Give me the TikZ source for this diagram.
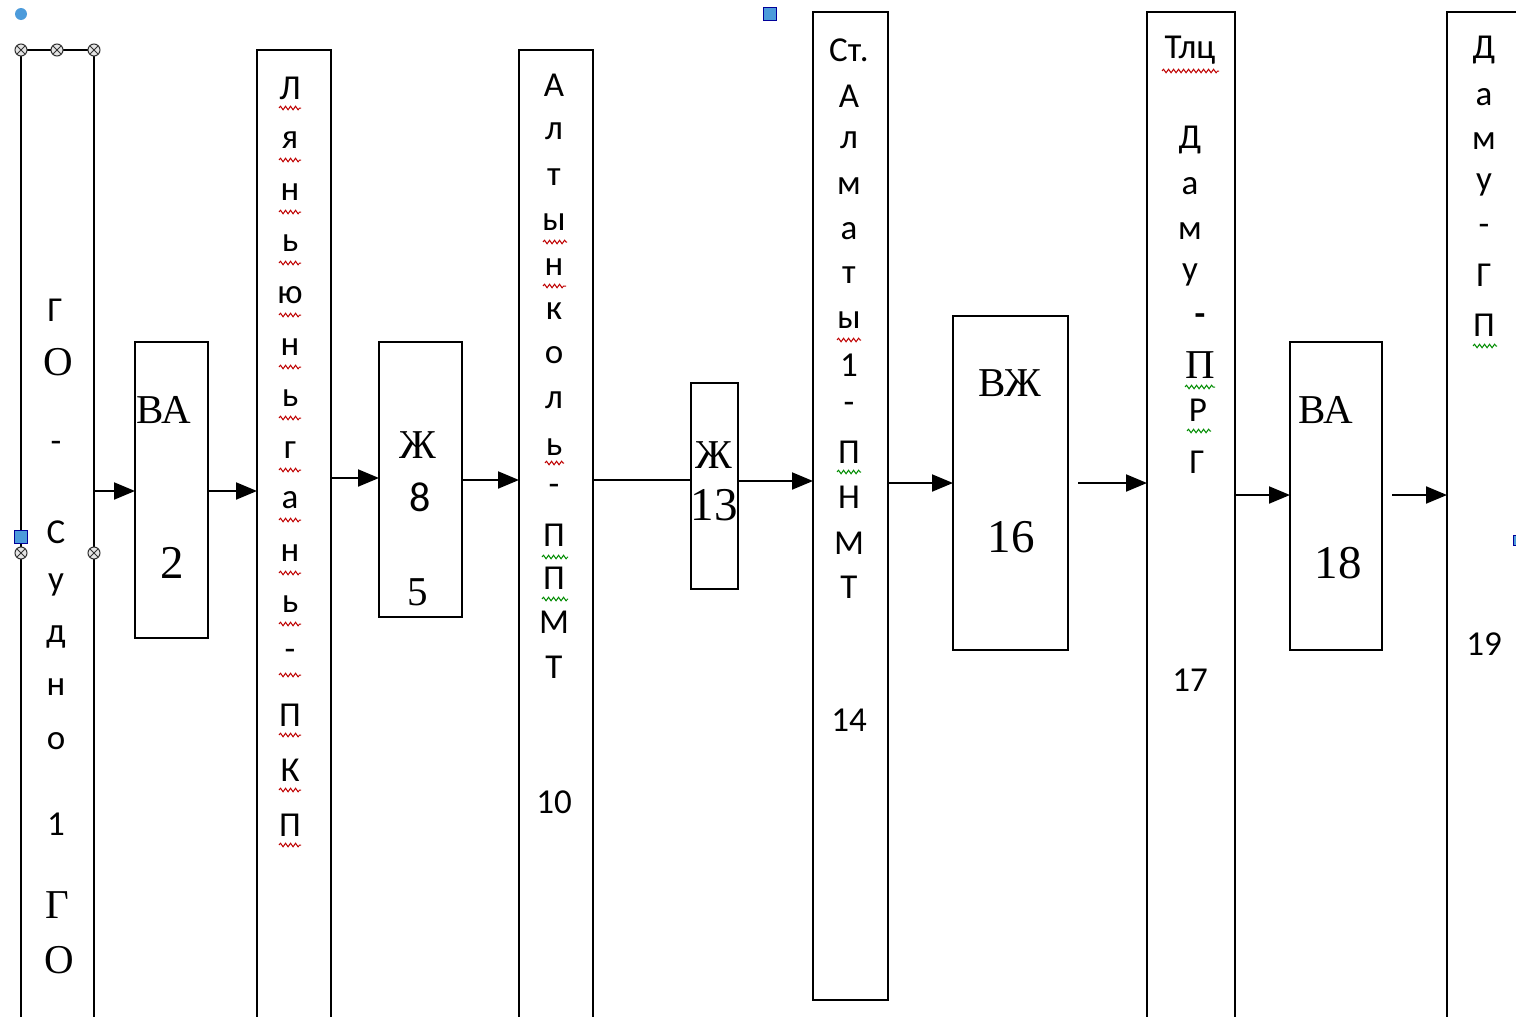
\documentclass[tikz,border=0pt]{standalone}
\usepackage{fontspec}
\setmainfont{Liberation Serif}
\setsansfont{Carlito}
\usetikzlibrary{arrows.meta,decorations.pathmorphing}
\begin{document}
\begin{tikzpicture}[x=1pt,y=-1pt,
  box/.style={draw,line width=2pt,anchor=north west,inner sep=0pt,outer sep=0pt},
  arr/.style={line width=2pt,-{Triangle[length=21pt,width=17pt]}},
  ln/.style={line width=2pt},
  sl/.style={font=\sffamily\fontsize{35}{37}\selectfont,inner sep=0pt},
  sr/.style={font=\rmfamily\fontsize{41}{43}\selectfont,inner sep=0pt},
  srb/.style={font=\rmfamily\fontsize{47}{49}\selectfont,inner sep=0pt},
  sqr/.style={draw=red!75!black,line width=1pt,decorate,decoration={snake,amplitude=1.8pt,segment length=5pt}},
  sqg/.style={draw=green!55!black,line width=1pt,decorate,decoration={snake,amplitude=1.8pt,segment length=5pt}},
  hnd/.style={circle,draw=gray!40!black,fill=gray!20,line width=1pt,minimum size=12pt,inner sep=0pt,path picture={\draw[line width=0.8pt] (path picture bounding box.north west)--(path picture bounding box.south east) (path picture bounding box.north east)--(path picture bounding box.south west);}},
  bsq/.style={fill=blue!45!cyan!80!black!70,draw=blue!60!black,line width=0.4pt,minimum size=13pt,inner sep=0pt}
]
\useasboundingbox[fill=white] (0,0) rectangle (1516,1017);
\clip (0,0) rectangle (1516,1017);

% boxes
\node[box,minimum width=73pt,minimum height=990pt] (n1) at (21,50) {};
\node[box,minimum width=73pt,minimum height=296pt] (n2) at (135,342) {};
\node[box,minimum width=74pt,minimum height=990pt] (n3) at (257,50) {};
\node[box,minimum width=83pt,minimum height=275pt] (n4) at (379,342) {};
\node[box,minimum width=74pt,minimum height=990pt] (n5) at (519,50) {};
\node[box,minimum width=47pt,minimum height=206pt] (n6) at (691,383) {};
\node[box,minimum width=75pt,minimum height=988pt] (n7) at (813,12) {};
\node[box,minimum width=115pt,minimum height=334pt] (n8) at (953,316) {};
\node[box,minimum width=88pt,minimum height=1020pt] (n9) at (1147,12) {};
\node[box,minimum width=92pt,minimum height=308pt] (n10) at (1290,342) {};
\node[box,minimum width=100pt,minimum height=1020pt] (n11) at (1447,12) {};

% connectors
\draw[arr] (n1.east |- 0,491) -- (n2.west |- 0,491);
\draw[arr] (n2.east |- 0,491) -- (n3.west |- 0,491);
\draw[arr] (n3.east |- 0,478) -- (n4.west |- 0,478);
\draw[arr] (n4.east |- 0,480) -- (n5.west |- 0,480);
\draw[ln] (n5.east |- 0,480) -- (n6.west |- 0,480);
\draw[arr] (n6.east |- 0,481) -- (n7.west |- 0,481);
\draw[arr] (n7.east |- 0,483) -- (n8.west |- 0,483);
\draw[arr] ([xshift=10pt]n8.east |- 0,483) -- (n9.west |- 0,483);
\draw[arr] (n9.east |- 0,495) -- (n10.west |- 0,495);
\draw[arr] ([xshift=10pt]n10.east |- 0,495) -- (n11.west |- 0,495);

% box 1 text
\node[sl] (t1a) at (55,310) {Г};
\node[sr] (t1b) at (58,362) {О};
\foreach \t/\y [count=\i] in {-/447,С/532,у/585,д/637,н/687,о/741,1/824}
  \node[sl] (t1c\i) at (56,\y) {\t};
\node[sr] (t1d) at (57,905) {Г};
\node[sr] (t1e) at (59,960) {О};

% box 2
\node[sr,anchor=west] (t2a) at (136,410) {ВА};
\node[srb] (t2b) at (172,563) {2};

% box 3
\foreach \t/\y [count=\i] in {Л/88,я/140,н/192,ь/243,ю/295,н/347,ь/398,г/450,а/500,н/553,ь/604,-/655,П/715,К/770,П/825}
  {\node[sl] (t3l\i) at (290,\y) {\t};
   \draw[sqr] (279,\y+20) -- (301,\y+20);}

% box 4
\node[sr] (t4a) at (418,445) {Ж};
\node[sl,font=\sffamily\fontsize{42}{44}\selectfont] (t4b) at (420,497) {8};
\node[sr] (t4c) at (418,592) {5};

% box 5
\foreach \t/\y [count=\i] in {А/85,л/131,т/177,ы/222,н/267,к/311,о/355,л/400,ь/447,-/490,П/535,П/578,М/622,Т/667}
  \node[sl] (t5l\i) at (554,\y) {\t};
\draw[sqr] (543,242) -- (567,242);
\draw[sqr] (543,286) -- (566,286);
\draw[sqr] (545,463) -- (564,463);
\draw[sqg] (542,557) -- (568,557);
\draw[sqg] (542,599) -- (568,599);
\node[sl] (t5n) at (554,802) {10};

% box 6
\node[sr] (t6a) at (714,455) {Ж};
\node[srb] (t6b) at (714,505) {13};

% box 7
\foreach \t/\y [count=\i] in {Ст./50,А/96,л/140,м/186,а/231,т/275,ы/320,1/365,-/408,П/452,Н/497,М/543,Т/587}
  \node[sl] (t7l\i) at (849,\y) {\t};
\draw[sqr] (837,340) -- (861,340);
\draw[sqg] (837,472) -- (861,472);
\node[sl] (t7n) at (849,720) {14};

% box 8
\node[sr] (t8a) at (1010,383) {ВЖ};
\node[srb] (t8b) at (1011,537) {16};

% box 9
\node[sl] (t9a) at (1190,50) {Тлц};
\draw[sqr] (1162,71) -- (1219,71);
\foreach \t/\y [count=\i] in {Д/140,а/186,м/231,у/275}
  \node[sl] (t9l\i) at (1190,\y) {\t};
\node[sl,font=\sffamily\bfseries\fontsize{35}{37}\selectfont] (t9d) at (1200,320) {-};
\node[sr] (t9p) at (1200,365) {П};
\node[sl] (t9r) at (1198,410) {Р};
\node[sl] (t9g) at (1197,462) {Г};
\draw[sqg] (1185,387) -- (1215,387);
\draw[sqg] (1187,431) -- (1211,431);
\node[sl] (t9n) at (1190,680) {17};

% box 10
\node[sr,anchor=west] (t10a) at (1298,410) {ВА};
\node[srb] (t10b) at (1338,563) {18};

% box 11
\foreach \t/\y [count=\i] in {Д/50,а/97,м/141,у/185,-/230,Г/275,П/325}
  \node[sl] (t11l\i) at (1484,\y) {\t};
\draw[sqg] (1473,346) -- (1497,346);
\node[sl] (t11n) at (1484,644) {19};

% selection handles
\node[circle,fill=blue!45!cyan!80!black!70,minimum size=12pt,inner sep=0pt] (h0) at (21,14) {};
\node[hnd] (h1) at (21,50) {};
\node[hnd] (h2) at (57,50) {};
\node[hnd] (h3) at (94,50) {};
\node[hnd] (h4) at (21,553) {};
\node[hnd] (h5) at (94,553) {};
\node[bsq] (h6) at (21,537) {};
\node[bsq] (h7) at (770,14) {};
\node[bsq,minimum size=10pt] (h8) at (1518,540) {};
\end{tikzpicture}
\end{document}
